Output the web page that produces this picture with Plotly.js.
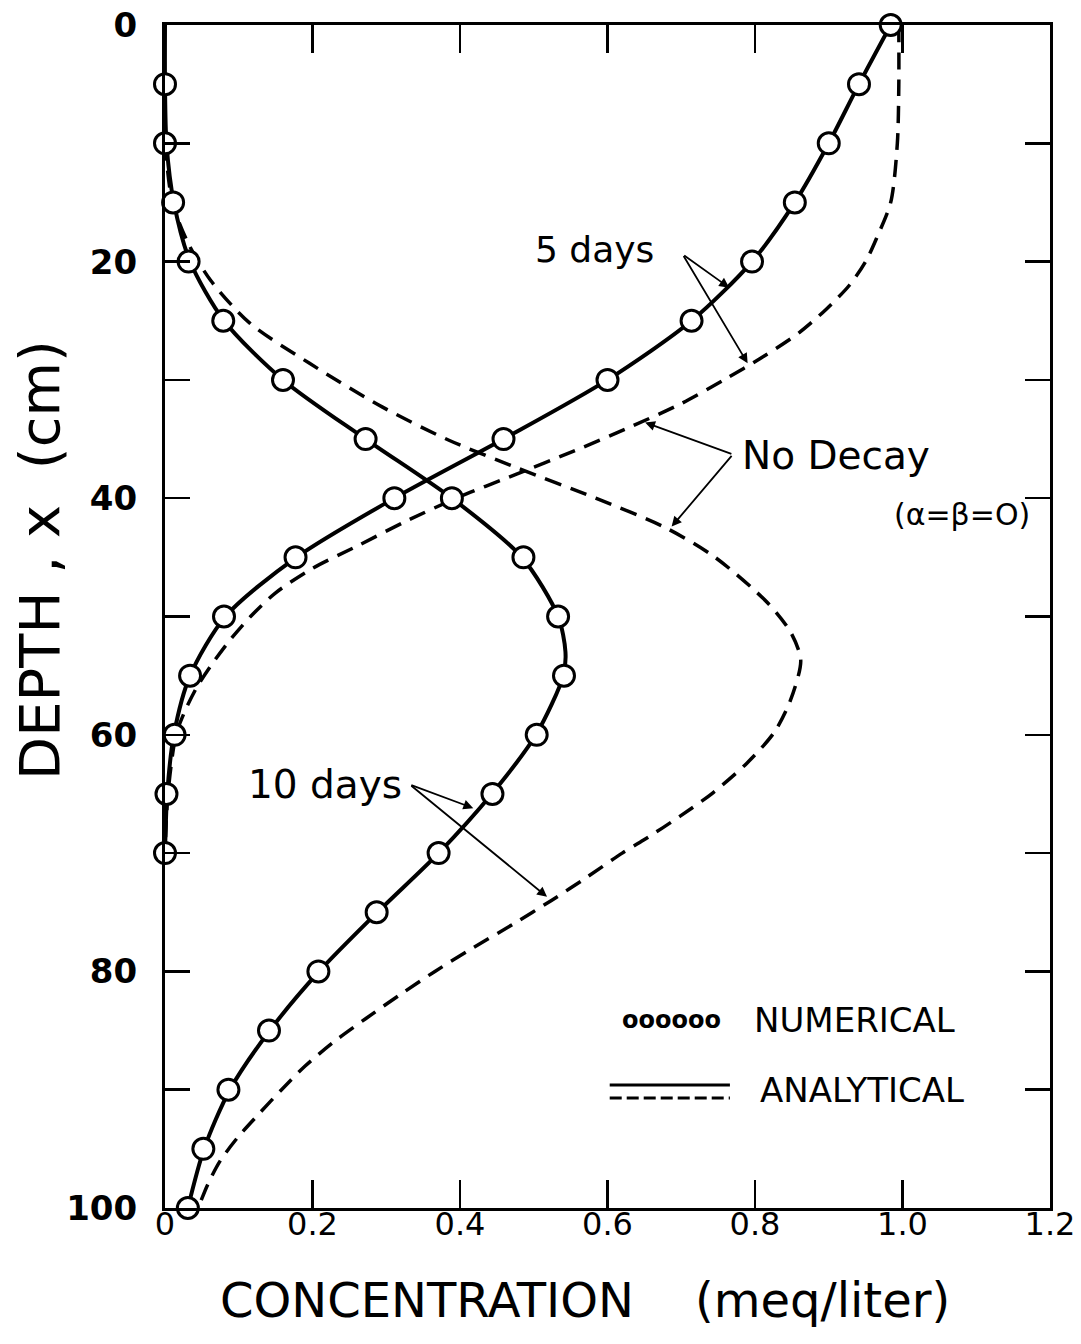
<!DOCTYPE html>
<html>
<head>
<meta charset="utf-8">
<script src="https://cdn.plot.ly/plotly-3.0.1.min.js"></script>
<style>
  html, body { margin: 0; padding: 0; background: #ffffff; }
  #chart { width: 1081px; height: 1344px; }
</style>
</head>
<body>
<div id="chart"></div>
<script>
// ---- Data ----
// Depth (cm) and concentration (meq/liter)

// 5 days, numerical (circles)
const num5Depth = [0, 5, 10, 15, 20, 25, 30, 35, 40, 45, 50, 55, 60, 65, 70];
const num5Conc  = [0.984, 0.941, 0.900, 0.854, 0.796, 0.714, 0.600, 0.459, 0.311, 0.177, 0.080, 0.034, 0.013, 0.002, 0.000];

// 10 days, numerical (circles)
const num10Depth = [5, 10, 15, 20, 25, 30, 35, 40, 45, 50, 55, 60, 65, 70, 75, 80, 85, 90, 95, 100];
const num10Conc  = [0.000, 0.000, 0.011, 0.032, 0.079, 0.160, 0.272, 0.389, 0.486, 0.533, 0.541, 0.504, 0.444, 0.371, 0.287, 0.208, 0.141, 0.086, 0.052, 0.031];

// 5 days, analytical (solid line)
const ana5Depth = [0, 5, 10, 15, 20, 25, 30, 35, 40, 45, 50, 55, 60, 65, 70];
const ana5Conc  = [0.984, 0.941, 0.900, 0.854, 0.796, 0.714, 0.600, 0.459, 0.311, 0.178, 0.082, 0.034, 0.012, 0.003, 0.000];

// 10 days, analytical (solid line)
const ana10Depth = [0, 5, 10, 15, 20, 25, 30, 35, 40, 45, 50, 53, 55, 60, 65, 70, 75, 80, 85, 90, 95, 100];
const ana10Conc  = [0.000, 0.000, 0.002, 0.012, 0.034, 0.080, 0.160, 0.272, 0.389, 0.484, 0.533, 0.543, 0.540, 0.503, 0.443, 0.371, 0.288, 0.209, 0.142, 0.088, 0.053, 0.031];

// 5 days, no decay (dashed)
const nd5Depth = [0, 5, 10, 15, 18, 20, 22, 24, 26, 28, 30, 32, 34, 36, 38, 40, 42, 44, 46, 48, 50, 52, 54, 56, 58, 60, 65, 70];
const nd5Conc  = [0.995, 0.995, 0.993, 0.984, 0.965, 0.950, 0.928, 0.897, 0.860, 0.812, 0.758, 0.700, 0.630, 0.555, 0.475, 0.395, 0.325, 0.262, 0.198, 0.150, 0.116, 0.088, 0.064, 0.043, 0.027, 0.015, 0.004, 0.000];

// 10 days, no decay (dashed)
const nd10Depth = [10, 15, 18.4, 21.6, 25.2, 28.6, 32.3, 35.1, 37.4, 40, 42.5, 45, 48.9, 51.4, 53.7, 57.1, 59.8, 62.4, 64.9, 66.9, 68.9, 70, 72, 74, 76, 78, 80, 82, 84, 86, 88, 90, 92, 94, 96, 98, 100];
const nd10Conc  = [0.000, 0.010, 0.031, 0.062, 0.115, 0.196, 0.295, 0.385, 0.476, 0.584, 0.679, 0.746, 0.818, 0.849, 0.862, 0.848, 0.826, 0.789, 0.743, 0.698, 0.649, 0.620, 0.573, 0.524, 0.472, 0.418, 0.366, 0.318, 0.272, 0.228, 0.190, 0.158, 0.128, 0.099, 0.075, 0.058, 0.045];

// Tick labels
const xTickVals = [0, 0.2, 0.4, 0.6, 0.8, 1.0, 1.2];
const xTickText = ['0', '0.2', '0.4', '0.6', '0.8', '1.0', '1.2'];
const yTickVals = [0, 10, 20, 30, 40, 50, 60, 70, 80, 90, 100];
const yTickText = ['0', '', '20', '', '40', '', '60', '', '80', '', '100'];

// ---- Styling ----
const FONT = 'DejaVu Sans, Liberation Sans, sans-serif';
const dashedLine = {color: '#000', width: 3.5, dash: '17px,10px', shape: 'spline', smoothing: 0.8};
const solidLine  = {color: '#000', width: 4, shape: 'spline', smoothing: 0.8};
const circleMarker = {symbol: 'circle', size: 21, color: '#ffffff', line: {color: '#000', width: 3}};

const traces = [
  {x: nd5Conc, y: nd5Depth, mode: 'lines', line: dashedLine, name: 'No decay, 5 days'},
  {x: nd10Conc, y: nd10Depth, mode: 'lines', line: dashedLine, name: 'No decay, 10 days'},
  {x: ana5Conc, y: ana5Depth, mode: 'lines', line: solidLine, name: 'Analytical, 5 days'},
  {x: ana10Conc, y: ana10Depth, mode: 'lines', line: solidLine, name: 'Analytical, 10 days'},
  {x: num5Conc, y: num5Depth, mode: 'markers', marker: circleMarker, cliponaxis: false, name: 'Numerical, 5 days'},
  {x: num10Conc, y: num10Depth, mode: 'markers', marker: circleMarker, cliponaxis: false, name: 'Numerical, 10 days'}
];

const arrowStyle = {showarrow: true, arrowhead: 2, arrowsize: 1.1, arrowwidth: 1.8, arrowcolor: '#000',
                    axref: 'x', ayref: 'y', xref: 'x', yref: 'y', text: ''};
const nb = '\u00a0';

const annotations = [
  // Axis titles
  {xref: 'paper', yref: 'paper', x: 0.4746, y: -0.0778, xanchor: 'center', yanchor: 'middle',
   text: 'CONCENTRATION' + nb + nb + nb + nb + '(meq/liter)', showarrow: false,
   font: {family: FONT, size: 48, color: '#000'}},
  {xref: 'paper', yref: 'paper', x: -0.141, y: 0.548, xanchor: 'center', yanchor: 'middle', textangle: -90,
   text: 'DEPTH' + nb + ',' + nb + 'x' + nb + nb + '(cm)', showarrow: false,
   font: {family: FONT, size: 56, color: '#000'}},
  // 5 days
  {xref: 'x', yref: 'y', x: 0.583, y: 19.0, text: '5 days', showarrow: false,
   font: {family: FONT, size: 36, color: '#000'}},
  Object.assign({}, arrowStyle, {x: 0.765, y: 22.2, ax: 0.702, ay: 19.4}),
  Object.assign({}, arrowStyle, {x: 0.79, y: 28.6, ax: 0.702, ay: 19.4}),
  // No decay
  {xref: 'x', yref: 'y', x: 0.78, y: 36.4, text: 'No Decay', showarrow: false, xanchor: 'left',
   font: {family: FONT, size: 39, color: '#000'}},
  {xref: 'x', yref: 'y', x: 1.175, y: 41.4, text: '(α=β=O)', showarrow: false, xanchor: 'right',
   font: {family: FONT, size: 30, color: '#000'}},
  Object.assign({}, arrowStyle, {x: 0.651, y: 33.6, ax: 0.770, ay: 36.3}),
  Object.assign({}, arrowStyle, {x: 0.687, y: 42.4, ax: 0.770, ay: 36.3}),
  // 10 days
  {xref: 'x', yref: 'y', x: 0.217, y: 64.2, text: '10 days', showarrow: false,
   font: {family: FONT, size: 39, color: '#000'}},
  Object.assign({}, arrowStyle, {x: 0.418, y: 66.2, ax: 0.332, ay: 64.2}),
  Object.assign({}, arrowStyle, {x: 0.518, y: 73.7, ax: 0.332, ay: 64.2}),
  // Legend
  {xref: 'x', yref: 'y', x: 0.687, y: 84.1, text: 'oooooo', showarrow: false,
   font: {family: FONT, size: 24, color: '#000', weight: 'bold'}},
  {xref: 'x', yref: 'y', x: 0.796, y: 84.1, text: 'NUMERICAL', showarrow: false, xanchor: 'left',
   font: {family: FONT, size: 34, color: '#000'}},
  {xref: 'x', yref: 'y', x: 0.804, y: 90.0, text: 'ANALYTICAL', showarrow: false, xanchor: 'left',
   font: {family: FONT, size: 34, color: '#000'}}
];

const shapes = [
  {type: 'line', xref: 'x', yref: 'y', x0: 0.603, x1: 0.766, y0: 89.6, y1: 89.6,
   line: {color: '#000', width: 3}},
  {type: 'line', xref: 'x', yref: 'y', x0: 0.603, x1: 0.766, y0: 90.7, y1: 90.7,
   line: {color: '#000', width: 3, dash: '12px,5px'}}
];

const layout = {
  width: 1081,
  height: 1344,
  margin: {l: 165, r: 31, t: 25, b: 136},
  paper_bgcolor: '#ffffff',
  plot_bgcolor: '#ffffff',
  showlegend: false,
  font: {family: FONT, color: '#000'},
  xaxis: {
    range: [0, 1.2],
    tickmode: 'array', tickvals: xTickVals, ticktext: xTickText,
    ticks: 'inside', ticklen: 28, tickwidth: 2.5, tickcolor: '#000',
    showline: true, linewidth: 3, linecolor: '#000', mirror: 'allticks',
    showgrid: false, zeroline: false,
    ticklabelstandoff: -14,
    tickfont: {family: FONT, size: 32, color: '#000'}
  },
  yaxis: {
    range: [100, 0],
    tickmode: 'array', tickvals: yTickVals, ticktext: yTickText,
    ticks: 'inside', ticklen: 25, tickwidth: 2.5, tickcolor: '#000',
    showline: true, linewidth: 3, linecolor: '#000', mirror: 'allticks',
    showgrid: false, zeroline: false,
    ticklabelstandoff: 18,
    tickfont: {family: FONT, size: 34, color: '#000', weight: 'bold'}
  },
  annotations: annotations,
  shapes: shapes
};

Plotly.newPlot('chart', traces, layout, {staticPlot: true, displayModeBar: false});
</script>
</body>
</html>
